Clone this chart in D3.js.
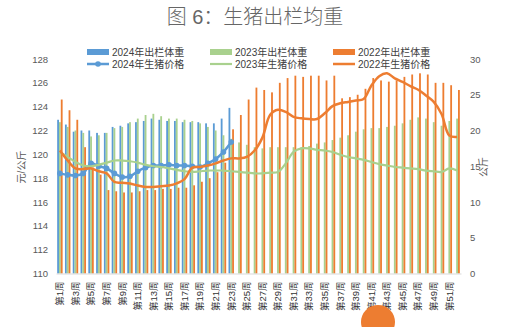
<!DOCTYPE html>
<html>
<head>
<meta charset="utf-8">
<script src="https://cdn.jsdelivr.net/npm/d3@7"></script>
<style>
  html, body { margin: 0; padding: 0; background: #ffffff; }
  svg { display: block; }
  text { font-family: "Liberation Sans", "Noto Sans CJK SC", sans-serif; }
</style>
</head>
<body>
<svg id="chart" width="510" height="327"></svg>
<script>
// Week labels 第1周 … 第52周
const weeks = d3.range(1, 53).map(i => "第" + i + "周");

// Average slaughter weight (kg), left axis
const weight2024 = [122.9,122.5,121.9,122.0,122.0,121.8,121.8,122.3,122.4,122.6,122.7,122.8,123.0,122.9,122.8,122.8,122.7,122.7,122.7,122.6,122.6,123.0,123.9];
const weight2023 = [122.7,122.3,122.0,121.8,121.5,121.6,121.8,122.2,122.3,122.7,123.0,123.3,123.4,123.2,123.0,123.0,122.9,122.8,122.6,122.3,122.0,121.6,121.3,121.0,120.8,120.6,120.5,120.6,120.6,120.6,120.6,120.6,120.7,120.9,121.0,121.2,121.4,121.6,121.9,122.1,122.2,122.2,122.3,122.4,122.6,122.9,123.1,123.0,122.7,122.4,122.8,123.0];
const weight2022 = [124.6,123.7,122.9,120.6,118.9,118.3,117.0,116.9,116.8,116.8,116.9,117.0,117.0,117.1,117.1,117.2,117.2,117.4,117.7,118.0,118.5,119.3,122.1,123.3,124.6,125.6,125.4,125.2,126.0,126.4,126.6,126.5,126.6,126.6,126.2,126.6,124.7,124.8,125.0,125.5,126.4,126.2,126.1,126.2,126.5,126.7,126.8,126.7,126.0,126.0,125.8,125.4];

// Live hog price (元/公斤), right axis
const price2024 = [14.0,13.8,13.7,14.0,15.4,15.0,14.7,14.0,13.5,13.6,14.3,14.8,15.1,15.1,15.2,15.1,15.1,15.0,14.9,15.4,16.0,17.0,18.4];
const price2023 = [17.0,16.3,15.6,15.1,15.0,15.2,15.5,15.8,15.8,15.7,15.5,15.2,15.0,14.9,14.7,14.5,14.3,14.2,14.3,14.4,14.4,14.4,14.3,14.2,14.1,14.0,14.0,14.1,14.2,15.4,17.0,17.5,17.5,17.3,17.2,17.0,16.6,16.3,16.1,15.9,15.6,15.3,15.1,14.9,14.8,14.7,14.6,14.4,14.3,14.2,14.7,14.4];
const price2022 = [17.2,15.8,14.7,14.6,14.7,14.3,14.0,12.8,12.7,12.6,12.3,12.1,12.1,12.2,12.3,12.6,13.2,14.8,14.9,15.1,15.4,15.8,16.1,16.1,16.3,17.2,19.0,22.2,22.9,22.6,21.9,21.7,21.6,21.6,22.4,23.4,23.8,24.0,24.2,24.4,26.3,27.6,28.0,27.3,26.8,26.2,25.7,24.9,24.0,22.3,19.3,19.1];

// Axis tick values
const leftTicks = d3.range(110, 129, 2);
const rightTicks = d3.range(0, 31, 5);

const barSeries = [
  { name: "2024年出栏体重", values: weight2024, color: "#5B9BD5" },
  { name: "2023年出栏体重", values: weight2023, color: "#A9D18E" },
  { name: "2022年出栏体重", values: weight2022, color: "#ED7D31" }
];
const lineSeries = [
  { name: "2024年生猪价格", values: price2024, color: "#5B9BD5", width: 2.5, marker: true },
  { name: "2023年生猪价格", values: price2023, color: "#A9D18E", width: 2.2, marker: false },
  { name: "2022年生猪价格", values: price2022, color: "#ED7D31", width: 2.5, marker: false }
];

const svg = d3.select("#chart");
const plot = { left: 56, right: 461, top: 59, bottom: 273.5 };

const x = d3.scaleBand().domain(weeks).range([plot.left, plot.right]).paddingInner(0.3).paddingOuter(0.15);
const xSub = d3.scaleBand().domain(barSeries.map(s => s.name)).range([0, x.bandwidth()]);
const yL = d3.scaleLinear().domain([110, 128]).range([plot.bottom, plot.top]);
const yR = d3.scaleLinear().domain([0, 30]).range([plot.bottom, plot.top]);

// Title
svg.append("text")
  .attr("x", 255).attr("y", 24)
  .attr("text-anchor", "middle")
  .attr("font-family", "'Noto Sans CJK SC', sans-serif")
  .attr("font-weight", 300)
  .attr("font-size", 20).attr("fill", "#666666")
  .text("图 6：生猪出栏均重");

// Columns
barSeries.forEach(s => {
  svg.append("g").selectAll("rect")
    .data(s.values)
    .join("rect")
    .attr("x", (d, i) => x(weeks[i]) + xSub(s.name))
    .attr("width", xSub.bandwidth())
    .attr("y", d => yL(d))
    .attr("height", d => yL(110) - yL(d))
    .attr("fill", s.color);
});

// Price lines
const xc = i => x(weeks[i]) + x.bandwidth() / 2;
lineSeries.forEach(s => {
  const line = d3.line()
    .x((d, i) => xc(i))
    .y(d => yR(d))
    .curve(d3.curveCatmullRom.alpha(0.5));
  svg.append("path")
    .datum(s.values)
    .attr("d", line)
    .attr("fill", "none")
    .attr("stroke", s.color)
    .attr("stroke-width", s.width)
    .attr("stroke-linejoin", "round");
  if (s.marker) {
    svg.append("g").selectAll("circle")
      .data(s.values)
      .join("circle")
      .attr("cx", (d, i) => xc(i))
      .attr("cy", d => yR(d))
      .attr("r", 2.8)
      .attr("fill", s.color);
  }
});

// Axes
const axisLeft = d3.axisLeft(yL).tickValues(leftTicks).tickSize(0).tickPadding(8);
const gL = svg.append("g").attr("transform", `translate(${plot.left},0)`).call(axisLeft);
gL.select(".domain").remove();
gL.selectAll("text").attr("font-size", 9.5).attr("fill", "#595959")
  .attr("font-family", "'Liberation Sans', sans-serif");

const axisRight = d3.axisRight(yR).tickValues(rightTicks).tickSize(0).tickPadding(9);
const gR = svg.append("g").attr("transform", `translate(${plot.right},0)`).call(axisRight);
gR.select(".domain").remove();
gR.selectAll("text").attr("font-size", 9.5).attr("fill", "#595959")
  .attr("font-family", "'Liberation Sans', sans-serif");

const axisBottom = d3.axisBottom(x).tickValues(weeks.filter((w, i) => i % 2 === 0)).tickSize(0).tickPadding(0);
const gB = svg.append("g").attr("transform", `translate(0,${plot.bottom})`).call(axisBottom);
gB.select(".domain").attr("stroke", "#d9d9d9");
gB.selectAll("text")
  .attr("font-size", 9.5).attr("fill", "#333333")
  .attr("font-family", "'Noto Sans CJK SC', sans-serif")
  .attr("text-anchor", "end")
  .attr("dy", "0.35em")
  .attr("transform", "translate(0,8) rotate(-90)")
  .attr("x", 0).attr("y", 0);

// Axis titles
svg.append("text")
  .attr("transform", "translate(25,167) rotate(-90)")
  .attr("text-anchor", "middle")
  .attr("font-family", "'Noto Sans CJK SC', sans-serif")
  .attr("font-size", 10).attr("fill", "#595959")
  .text("元/公斤");
svg.append("text")
  .attr("transform", "translate(487,167) rotate(-90)")
  .attr("text-anchor", "middle")
  .attr("font-family", "'Noto Sans CJK SC', sans-serif")
  .attr("font-size", 10).attr("fill", "#595959")
  .text("公斤");

// Legend: columns in row 1, price lines in row 2
const legendX = [87, 210, 333];
barSeries.forEach((s, i) => {
  const g = svg.append("g").attr("transform", `translate(${legendX[i]},52)`);
  g.append("rect").attr("x", 0).attr("y", -3).attr("width", 22).attr("height", 6).attr("fill", s.color);
  g.append("text").attr("x", 25).attr("y", 0).attr("dy", "0.35em")
    .attr("font-family", "'Noto Sans CJK SC', sans-serif")
    .attr("font-size", 10).attr("fill", "#404040").text(s.name);
});
lineSeries.forEach((s, i) => {
  const g = svg.append("g").attr("transform", `translate(${legendX[i]},64)`);
  g.append("line").attr("x1", 0).attr("x2", 22).attr("y1", 0).attr("y2", 0)
    .attr("stroke", s.color).attr("stroke-width", s.width);
  if (s.marker) g.append("circle").attr("cx", 11).attr("cy", 0).attr("r", 2.8).attr("fill", s.color);
  g.append("text").attr("x", 25).attr("y", 0).attr("dy", "0.35em")
    .attr("font-family", "'Noto Sans CJK SC', sans-serif")
    .attr("font-size", 10).attr("fill", "#404040").text(s.name);
});

// Corner emblem
svg.append("circle").attr("cx", 378).attr("cy", 322).attr("r", 17).attr("fill", "#ED7D31");
</script>
</body>
</html>
